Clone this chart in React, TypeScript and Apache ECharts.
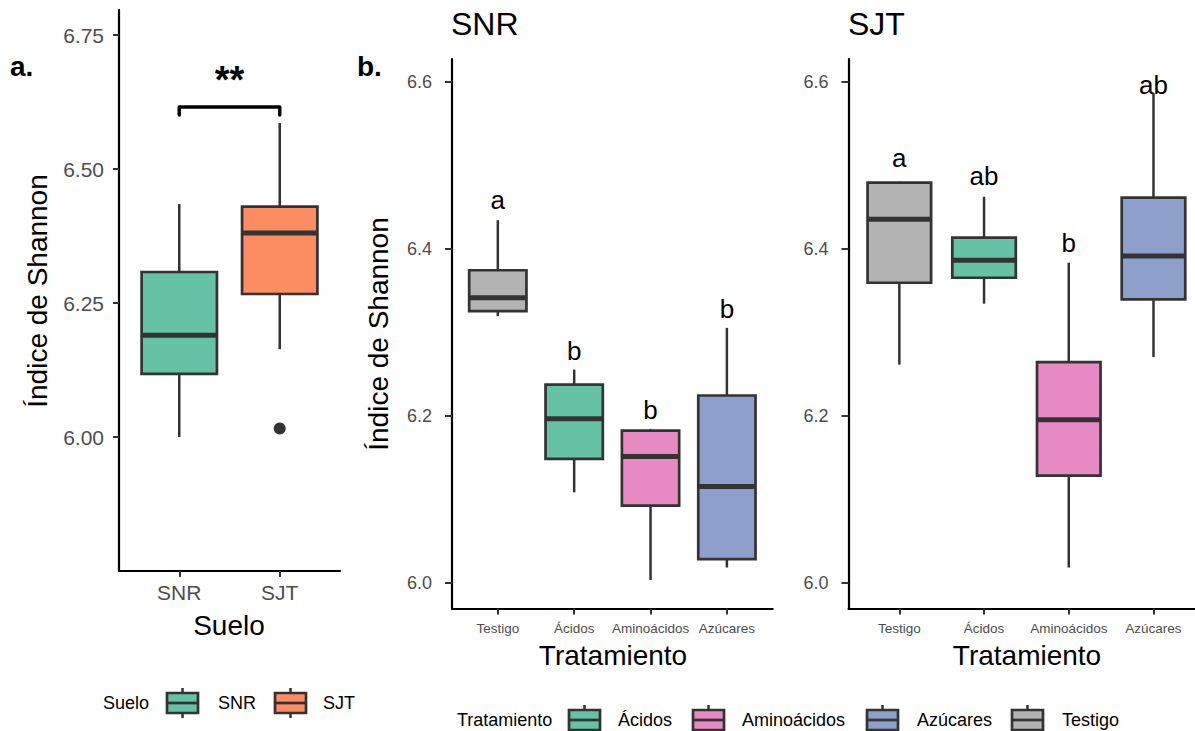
import React, { useEffect, useRef } from "react";
import * as echarts from "echarts";

// ---------- data ----------
const sueloCats = ["SNR", "SJT"];
const sueloColors = ["#66C2A5", "#FC8D62"];
const sueloMin = [6.0, 6.164];
const sueloQ1 = [6.118, 6.267];
const sueloMedian = [6.19, 6.381];
const sueloQ3 = [6.308, 6.43];
const sueloMax = [6.435, 6.586];
const sueloOutlierCat = [2];
const sueloOutlierVal = [6.016];
const sigPair = [1, 2];
const sigY = 6.616;
const sigTipY = 6.601;
const sigLabel = "**";

const tratCats = ["Testigo", "Ácidos", "Aminoácidos", "Azúcares"];
const tratColors = ["#B3B3B3", "#66C2A5", "#E78AC3", "#8DA0CB"];

const snrMin = [6.319, 6.108, 6.003, 6.018];
const snrQ1 = [6.325, 6.148, 6.092, 6.028];
const snrMedian = [6.341, 6.196, 6.151, 6.115];
const snrQ3 = [6.374, 6.237, 6.182, 6.224];
const snrMax = [6.434, 6.255, 6.184, 6.305];
const snrLetters = ["a", "b", "b", "b"];
const snrLetterY = [6.458, 6.277, 6.207, 6.327];

const sjtMin = [6.261, 6.334, 6.018, 6.27];
const sjtQ1 = [6.359, 6.365, 6.128, 6.339];
const sjtMedian = [6.435, 6.386, 6.195, 6.391];
const sjtQ3 = [6.479, 6.413, 6.264, 6.461];
const sjtMax = [6.48, 6.462, 6.383, 6.586];
const sjtLetters = ["a", "ab", "b", "ab"];
const sjtLetterY = [6.508, 6.487, 6.407, 6.596];

const ticksA = [6.0, 6.25, 6.5, 6.75];
const ticksB = [6.0, 6.2, 6.4, 6.6];

const legendSuelo = ["SNR", "SJT"];
const legendTrat = ["Ácidos", "Aminoácidos", "Azúcares", "Testigo"];
const legendTratColors = ["#66C2A5", "#E78AC3", "#8DA0CB", "#B3B3B3"];

// ---------- styles ----------
const FONT = "'Liberation Sans', Arial, Helvetica, sans-serif";
const DARK = "#333333";
const TICKCOL = "#4D4D4D";

function boxData(mins: number[], q1: number[], med: number[], q3: number[], max: number[], ly?: number[]) {
  return mins.map((_, i) => [i + 1, mins[i], q1[i], med[i], q3[i], max[i], ly ? ly[i] : max[i]]);
}

function makeBoxRender(colors: string[], letters: string[] | null) {
  return (params: any, api: any) => {
    const i = params.dataIndex;
    const x = api.value(0);
    const pLo = api.coord([x, api.value(1)]);
    const pQ1 = api.coord([x, api.value(2)]);
    const pMed = api.coord([x, api.value(3)]);
    const pQ3 = api.coord([x, api.value(4)]);
    const pHi = api.coord([x, api.value(5)]);
    const pL = api.coord([x, api.value(6)]);
    const cx = pMed[0];
    const half = api.size([0.75, 0])[0] / 2;
    const children: any[] = [
      { type: "line", shape: { x1: cx, y1: pHi[1], x2: cx, y2: pQ3[1] }, style: { stroke: DARK, lineWidth: 2.5 } },
      { type: "line", shape: { x1: cx, y1: pQ1[1], x2: cx, y2: pLo[1] }, style: { stroke: DARK, lineWidth: 2.5 } },
      {
        type: "rect",
        shape: { x: cx - half, y: pQ3[1], width: 2 * half, height: pQ1[1] - pQ3[1] },
        style: { fill: colors[i], stroke: DARK, lineWidth: 2.7 },
      },
      { type: "line", shape: { x1: cx - half, y1: pMed[1], x2: cx + half, y2: pMed[1] }, style: { stroke: DARK, lineWidth: 5 } },
    ];
    if (letters) {
      children.push({
        type: "text",
        x: cx,
        y: pL[1],
        style: { text: letters[i], fill: "#000", fontSize: 26, fontFamily: FONT, align: "center", verticalAlign: "middle" },
      });
    }
    return { type: "group", children };
  };
}

function legendKey(x: number, cy: number, color: string) {
  const w = 31;
  const h = 20;
  return [
    { type: "line", shape: { x1: x + w / 2, y1: cy - h / 2 - 5, x2: x + w / 2, y2: cy + h / 2 + 5 }, style: { stroke: DARK, lineWidth: 2.5 } },
    { type: "rect", shape: { x, y: cy - h / 2, width: w, height: h }, style: { fill: color, stroke: DARK, lineWidth: 2.7 } },
    { type: "line", shape: { x1: x, y1: cy, x2: x + w, y2: cy }, style: { stroke: DARK, lineWidth: 2.7 } },
  ];
}

function txt(text: string, x: number, y: number, size: number, opts: any = {}) {
  return {
    type: "text",
    x,
    y,
    rotation: opts.rotation || 0,
    style: {
      text,
      fill: opts.fill || "#000",
      fontSize: size,
      fontFamily: FONT,
      fontWeight: opts.bold ? "bold" : "normal",
      align: opts.align || "left",
      verticalAlign: "middle",
    },
  };
}

const App: React.FC = () => {
  const ref = useRef<HTMLDivElement>(null);
  useEffect(() => {
    document.body.style.margin = "0";
    if (!ref.current) return;
    const chart = echarts.init(ref.current, undefined, { renderer: "svg" });

    const yAxisBase = (gridIndex: number, min: number, max: number, ticks: number[], dec: number, size: number, margin: number, tickLen: number) => ({
      type: "value",
      gridIndex,
      min,
      max,
      splitLine: { show: false },
      axisLine: { show: true, lineStyle: { color: "#000", width: 2.2 } },
      axisTick: { show: true, customValues: ticks, length: tickLen, lineStyle: { color: DARK, width: 2 } },
      axisLabel: {
        customValues: ticks,
        formatter: (v: number) => v.toFixed(dec),
        color: TICKCOL,
        fontSize: size,
        fontFamily: FONT,
        margin,
      },
    });
    const xAxisBase = (gridIndex: number, max: number, cats: string[], size: number, margin: number) => ({
      type: "value",
      gridIndex,
      min: 0.4,
      max,
      splitLine: { show: false },
      axisLine: { show: true, onZero: false, lineStyle: { color: "#000", width: 2.2 } },
      axisTick: { show: true, customValues: cats.map((_, i) => i + 1), length: 6, lineStyle: { color: DARK, width: 2 } },
      axisLabel: {
        customValues: cats.map((_, i) => i + 1),
        formatter: (v: number) => cats[Math.round(v) - 1] ?? "",
        color: TICKCOL,
        fontSize: size,
        fontFamily: FONT,
        margin,
      },
    });

    const legendA: any[] = [txt("Suelo", 103, 703, 18)];
    const legAX = [167, 275];
    const legATx = [218, 323];
    legendSuelo.forEach((s, i) => {
      legendA.push(...legendKey(legAX[i], 703, sueloColors[i]));
      legendA.push(txt(s, legATx[i], 703, 18));
    });
    const legendB: any[] = [txt("Tratamiento", 457, 720, 18)];
    const legBX = [569, 693, 867, 1012];
    const legBTx = [618, 742, 917, 1062];
    legendTrat.forEach((s, i) => {
      legendB.push(...legendKey(legBX[i], 720, legendTratColors[i]));
      legendB.push(txt(s, legBTx[i], 720, 18));
    });

    const option: any = {
      animation: false,
      backgroundColor: "#ffffff",
      grid: [
        { left: 119, top: 10, width: 221, height: 561 },
        { left: 452, top: 59, width: 320.7, height: 549.4 },
        { left: 848.5, top: 59, width: 346.5, height: 549.4 },
      ],
      xAxis: [
        xAxisBase(0, 2.6, sueloCats, 21, 11),
        xAxisBase(1, 4.6, tratCats, 13.5, 13),
        xAxisBase(2, 4.49, tratCats, 13.5, 13),
      ],
      yAxis: [
        yAxisBase(0, 5.75, 6.797, ticksA, 2, 21, 15, 6),
        yAxisBase(1, 5.969, 6.627, ticksB, 1, 18, 20, 7),
        yAxisBase(2, 5.969, 6.627, ticksB, 1, 18, 20, 7),
      ],
      series: [
        {
          type: "custom",
          name: "Suelo",
          xAxisIndex: 0,
          yAxisIndex: 0,
          renderItem: makeBoxRender(sueloColors, null),
          encode: { x: 0, y: [1, 2, 3, 4, 5] },
          data: boxData(sueloMin, sueloQ1, sueloMedian, sueloQ3, sueloMax),
          z: 2,
        },
        {
          type: "scatter",
          xAxisIndex: 0,
          yAxisIndex: 0,
          symbol: "circle",
          symbolSize: 12,
          itemStyle: { color: DARK, opacity: 1 },
          data: sueloOutlierCat.map((c, i) => [c, sueloOutlierVal[i]]),
          z: 3,
        },
        {
          type: "custom",
          name: "Significancia",
          xAxisIndex: 0,
          yAxisIndex: 0,
          renderItem: (params: any, api: any) => {
            const a = api.coord([api.value(0), api.value(3)]);
            const b = api.coord([api.value(1), api.value(3)]);
            const ta = api.coord([api.value(0), api.value(2)]);
            const tb = api.coord([api.value(1), api.value(2)]);
            return {
              type: "group",
              children: [
                {
                  type: "polyline",
                  shape: { points: [ta, a, b, tb] },
                  style: { stroke: "#000", lineWidth: 3.5, fill: null, lineJoin: "round", lineCap: "round" },
                },
                {
                  type: "text",
                  x: (a[0] + b[0]) / 2,
                  y: a[1] - 27,
                  style: { text: sigLabel, fill: "#000", fontSize: 38, fontWeight: "bold", fontFamily: FONT, align: "center", verticalAlign: "middle" },
                },
              ],
            };
          },
          encode: { x: [0, 1], y: [2, 3] },
          data: [[sigPair[0], sigPair[1], sigTipY, sigY]],
          z: 3,
        },
        {
          type: "custom",
          name: "SNR",
          xAxisIndex: 1,
          yAxisIndex: 1,
          renderItem: makeBoxRender(tratColors, snrLetters),
          encode: { x: 0, y: [1, 2, 3, 4, 5] },
          data: boxData(snrMin, snrQ1, snrMedian, snrQ3, snrMax, snrLetterY),
          z: 2,
        },
        {
          type: "custom",
          name: "SJT",
          xAxisIndex: 2,
          yAxisIndex: 2,
          renderItem: makeBoxRender(tratColors, sjtLetters),
          encode: { x: 0, y: [1, 2, 3, 4, 5] },
          data: boxData(sjtMin, sjtQ1, sjtMedian, sjtQ3, sjtMax, sjtLetterY),
          z: 2,
        },
      ],
      graphic: [
        txt("a.", 10, 66, 28, { bold: true }),
        txt("b.", 357, 66, 28, { bold: true }),
        txt("SNR", 451, 24, 32),
        txt("SJT", 848, 24, 32),
        txt("Índice de Shannon", 37, 291, 28, { rotation: Math.PI / 2, align: "center" }),
        txt("Índice de Shannon", 378, 334, 28, { rotation: Math.PI / 2, align: "center" }),
        txt("Suelo", 229, 625, 28, { align: "center" }),
        txt("Tratamiento", 613, 655, 28, { align: "center" }),
        txt("Tratamiento", 1027, 655, 28, { align: "center" }),
        ...legendA,
        ...legendB,
      ],
    };
    chart.setOption(option);
    return () => chart.dispose();
  }, []);
  return <div ref={ref} style={{ width: 1195, height: 731 }} />;
};

export default App;
